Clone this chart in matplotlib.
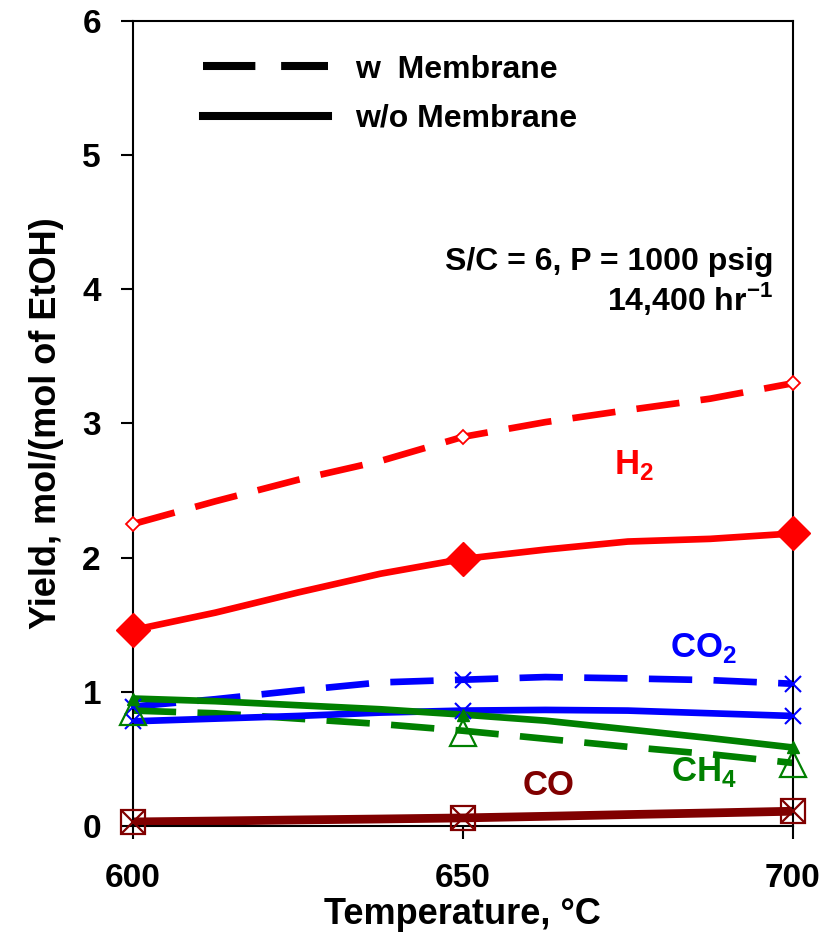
import matplotlib
matplotlib.use("Agg")
import matplotlib.pyplot as plt
from matplotlib.lines import Line2D

plt.rcParams['font.family'] = ['Liberation Sans', 'DejaVu Sans']
plt.rcParams['font.weight'] = 'bold'
plt.rcParams['mathtext.fontset'] = 'custom'
plt.rcParams['mathtext.rm'] = 'Liberation Sans:bold'
plt.rcParams['mathtext.bf'] = 'Liberation Sans:bold'

# measured temperatures (markers) and smoothed-curve read-off points
temps = [600, 650, 700]
curve_t = [600, 612.5, 625, 637.5, 650, 662.5, 675, 687.5, 700]

# yields, mol/(mol EtOH)
h2_w = [2.25, 2.42, 2.58, 2.72, 2.90, 3.01, 3.10, 3.185, 3.30]
h2_wo = [1.46, 1.59, 1.74, 1.88, 1.99, 2.06, 2.12, 2.14, 2.18]
co2_w = [0.89, 0.945, 1.01, 1.07, 1.09, 1.11, 1.10, 1.087, 1.06]
co2_wo = [0.78, 0.80, 0.82, 0.845, 0.86, 0.865, 0.86, 0.84, 0.82]
ch4_w = [0.86, 0.84, 0.80, 0.76, 0.71, 0.65, 0.59, 0.535, 0.47]
ch4_wo = [0.95, 0.93, 0.90, 0.87, 0.83, 0.785, 0.72, 0.655, 0.585]
co_w = [0.03, 0.037, 0.045, 0.052, 0.06, 0.072, 0.085, 0.097, 0.11]
co_wo = [0.03, 0.037, 0.045, 0.052, 0.06, 0.072, 0.085, 0.097, 0.11]

# marker values at the measured temperatures
h2_w_pts = [2.25, 2.90, 3.30]
h2_wo_pts = [1.46, 1.99, 2.18]
co2_w_pts = [0.89, 1.09, 1.06]
co2_wo_pts = [0.78, 0.86, 0.82]
ch4_w_pts = [0.85, 0.69, 0.46]
ch4_wo_pts = [0.95, 0.83, 0.585]
co_pts = [0.03, 0.06, 0.11]

RED, BLUE, GREEN, DRED = '#FF0000', '#0000FF', '#008000', '#800000'
LW = 4.8
DASH = (6.5, 3.2)

fig = plt.figure(figsize=(8.25, 9.4), dpi=100)
ax = fig.add_axes([0.161, 0.1213, 0.8, 0.8564])

# w membrane (dashed)
ax.plot(curve_t, h2_w, color=RED, lw=LW, dashes=DASH)
ax.plot(curve_t, co2_w, color=BLUE, lw=LW, dashes=DASH)
ax.plot(curve_t, ch4_w, color=GREEN, lw=LW, dashes=DASH)
ax.plot(curve_t, co_w, color=DRED, lw=LW, dashes=DASH)
# w/o membrane (solid)
ax.plot(curve_t, h2_wo, color=RED, lw=LW)
ax.plot(curve_t, co2_wo, color=BLUE, lw=LW)
ax.plot(curve_t, ch4_wo, color=GREEN, lw=LW)
ax.plot(curve_t, co_wo, color=DRED, lw=LW + 1.5)

# markers
mk = dict(ls='none', clip_on=False, zorder=5)
ax.plot(temps, h2_w_pts, marker='D', ms=7, mfc='white', mec=RED, mew=1.3, **mk)
ax.plot(temps, h2_wo_pts, marker='D', ms=17, color=RED, **mk)
ax.plot(temps, co2_w_pts, marker='x', ms=11, mec=BLUE, mew=1.5, **mk)
ax.plot(temps, co2_wo_pts, marker='x', ms=11, mec=BLUE, mew=1.5, **mk)
ax.plot(temps, ch4_w_pts, marker='^', ms=19, mfc='none', mec=GREEN, mew=1.6, **mk)
ax.plot(temps, ch4_wo_pts, marker='^', ms=8, color=GREEN, **mk)
ax.plot(temps, co_pts, marker='s', ms=17, mfc='none', mec=DRED, mew=1.6, **mk)
ax.plot(temps, co_pts, marker='x', ms=17, mec=DRED, mew=1.6, **mk)

ax.set_xlim(600, 700)
ax.set_ylim(0, 6)
ax.set_xticks(temps)
ax.set_yticks(range(7))
ax.tick_params(axis='both', direction='out', length=9, width=1.5, labelsize=24)
ax.tick_params(axis='x', pad=18)
ax.tick_params(axis='y', pad=14)
for s in ax.spines.values():
    s.set_linewidth(1.5)
ax.set_xlabel('Temperature, °C', fontsize=26, fontweight='bold', labelpad=2)
ax.set_ylabel('Yield, mol/(mol of EtOH)', fontsize=26, fontweight='bold', labelpad=13)

# species labels
ax.text(676, 2.69, r'H$_\mathbf{2}$', color=RED, fontsize=25, ha='center', va='center')
ax.text(686.5, 1.33, r'CO$_\mathbf{2}$', color=BLUE, fontsize=25, ha='center', va='center')
ax.text(686.5, 0.40, r'CH$_\mathbf{4}$', color=GREEN, fontsize=25, ha='center', va='center')
ax.text(663, 0.30, 'CO', color=DRED, fontsize=25, ha='center', va='center')

ax.text(697, 4.2, 'S/C = 6, P = 1000 psig', fontsize=23, ha='right', va='center')
ax.text(697, 3.93, r'14,400 hr$^\mathbf{-1}$', fontsize=23, ha='right', va='center')

handles = [Line2D([], [], color='k', lw=LW + 1, dashes=DASH),
           Line2D([], [], color='k', lw=LW + 1)]
ax.legend(handles, ['w  Membrane', 'w/o Membrane'], loc='upper left',
          bbox_to_anchor=(0.068, 0.99), frameon=False, fontsize=23,
          handlelength=3.9, handletextpad=0.85, labelspacing=0.6, borderpad=0.3)

fig.savefig('out.png', dpi=100)
